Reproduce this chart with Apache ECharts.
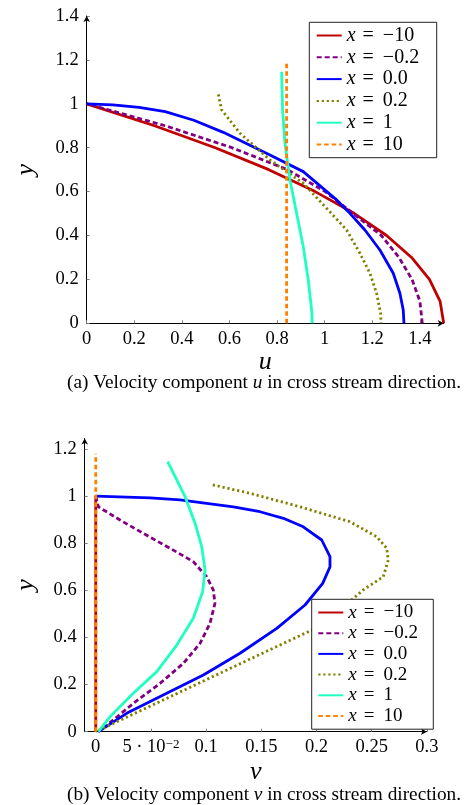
<!DOCTYPE html>
<html>
<head>
<meta charset="utf-8">
<script src="https://cdn.jsdelivr.net/npm/echarts@6/dist/echarts.min.js"></script>
<style>
  html, body { margin: 0; padding: 0; background: #fff; }
  #chart { width: 465px; height: 805px; }
</style>
</head>
<body>
<div id="chart"></div>
<script>
// Stations along the channel (legend entries)
const stations = ['x = \u221210', 'x = \u22120.2', 'x = 0.0', 'x = 0.2', 'x = 1', 'x = 10'];

// (a) streamwise velocity u against y
const uXm10 = [1.5, 1.485, 1.44, 1.365, 1.26, 1.125, 0.96, 0.765, 0.54, 0.285, 0];
const yUXm10 = [0, 0.1, 0.2, 0.3, 0.4, 0.5, 0.6, 0.7, 0.8, 0.9, 1.0];
const uXm02 = [1.41, 1.40, 1.367, 1.312, 1.238, 1.12, 1.002, 0.844, 0.61, 0.33, 0];
const yUXm02 = [0, 0.1, 0.2, 0.3, 0.4, 0.5, 0.6, 0.7, 0.8, 0.9, 1.0];
const uX00 = [0, 0.11, 0.22, 0.33, 0.45, 0.574, 0.66, 0.77, 0.91, 1.05, 1.106, 1.169, 1.232, 1.288, 1.316, 1.33, 1.333];
const yUX00 = [1.0, 0.995, 0.984, 0.964, 0.925, 0.87, 0.825, 0.767, 0.691, 0.562, 0.501, 0.425, 0.334, 0.228, 0.137, 0.061, 0];
const uX02 = [0.553, 0.567, 0.644, 0.77, 0.91, 1.008, 1.092, 1.148, 1.19, 1.218, 1.235, 1.237];
const yUX02 = [1.043, 0.972, 0.866, 0.744, 0.638, 0.524, 0.425, 0.319, 0.228, 0.137, 0.046, 0];
const uX1 = [0.819, 0.823, 0.833, 0.854, 0.882, 0.91, 0.931, 0.945, 0.948];
const yUX1 = [1.146, 0.972, 0.82, 0.653, 0.501, 0.349, 0.197, 0.061, 0];
const uX10 = [0.84, 0.84];
const yUX10 = [0, 1.19];

// (b) cross-stream velocity v against y
const vXm10 = [0, 0];
const yVXm10 = [0, 1.0];
const vXm02 = [0, 0.0024, 0.022, 0.0431, 0.0703, 0.0884, 0.1005, 0.1065, 0.108, 0.1035, 0.0945, 0.0793, 0.0582, 0.034, 0.016, 0.002];
const yVXm02 = [1.0, 0.955, 0.899, 0.842, 0.771, 0.722, 0.658, 0.602, 0.545, 0.46, 0.375, 0.29, 0.205, 0.12, 0.05, 0];
const vX00 = [0, 0.0493, 0.0764, 0.1246, 0.1488, 0.17, 0.188, 0.2047, 0.2122, 0.2122, 0.2056, 0.1896, 0.164, 0.1307, 0.0975, 0.0643, 0.028, 0.0024];
const yVX00 = [1.0, 0.993, 0.984, 0.955, 0.934, 0.906, 0.87, 0.814, 0.743, 0.70, 0.63, 0.538, 0.439, 0.333, 0.241, 0.163, 0.078, 0];
const vX02 = [0.106, 0.14, 0.185, 0.23, 0.2545, 0.2636, 0.265, 0.2605, 0.2424, 0.222, 0.196, 0.145, 0.0975, 0.05, 0.0];
const yVX02 = [1.048, 1.012, 0.955, 0.892, 0.828, 0.779, 0.729, 0.658, 0.602, 0.52, 0.432, 0.32, 0.215, 0.11, 0.0];
const vX1 = [0.0652, 0.0809, 0.09, 0.096, 0.099, 0.0969, 0.0884, 0.0734, 0.0553, 0.034, 0.013, 0.0024];
const yVX1 = [1.147, 0.998, 0.885, 0.786, 0.687, 0.595, 0.482, 0.368, 0.255, 0.163, 0.064, 0];
const vX10 = [0, 0];
const yVX10 = [0, 1.18];

// Tick positions
const uTicks = [0, 0.2, 0.4, 0.6, 0.8, 1, 1.2, 1.4];
const yTicksA = [0, 0.2, 0.4, 0.6, 0.8, 1, 1.2, 1.4];
const vTicks = [0, 0.05, 0.1, 0.15, 0.2, 0.25, 0.3];
const yTicksB = [0, 0.2, 0.4, 0.6, 0.8, 1, 1.2];

const SERIF = 'Liberation Serif';
const TICK_FS = 18.5;
const styles = [
  { color: '#c00000', type: 'solid' },
  { color: '#800080', type: [5, 3] },
  { color: '#0000ff', type: 'solid' },
  { color: '#808000', type: [2.2, 2.8] },
  { color: '#1effc0', type: 'solid' },
  { color: '#ff8000', type: [4.5, 3] }
];

const zip = (a, b) => a.map((v, i) => [v, b[i]]);
const dataA = [zip(uXm10, yUXm10), zip(uXm02, yUXm02), zip(uX00, yUX00), zip(uX02, yUX02), zip(uX1, yUX1), zip(uX10, yUX10)];
const dataB = [zip(vXm10, yVXm10), zip(vXm02, yVXm02), zip(vX00, yVX00), zip(vX02, yVX02), zip(vX1, yVX1), zip(vX10, yVX10)];

function makeSeries(data, axisIndex) {
  return data.map((d, i) => ({
    name: stations[i],
    type: 'line',
    xAxisIndex: axisIndex,
    yAxisIndex: axisIndex,
    data: d,
    symbol: 'none',
    showSymbol: false,
    smooth: false,
    lineStyle: { color: styles[i].color, width: 2.8, type: styles[i].type, cap: 'butt' },
    itemStyle: { color: styles[i].color }
  }));
}

const tickFmt = v => String(Math.round(v * 1000) / 1000);

function valueAxis(extra) {
  return Object.assign({
    type: 'value',
    splitLine: { show: false },
    axisLine: { show: true, onZero: false, symbol: ['none', 'arrow'], symbolSize: [5, 6], lineStyle: { color: '#000', width: 1 } },
    nameTextStyle: { color: '#000', fontFamily: SERIF, fontStyle: 'italic', fontSize: 26 },
    nameLocation: 'middle'
  }, extra);
}

function ticks(values) {
  return { show: true, inside: true, length: 3, customValues: values, lineStyle: { color: '#808080', width: 1 } };
}

function labels(values, margin) {
  return { color: '#000', fontFamily: SERIF, fontSize: TICK_FS, margin: margin, customValues: values, formatter: tickFmt };
}

function legendFmt(name) {
  return '{i|x}{e|=}{n|' + name.slice(4) + '}';
}

function legendBox(left, top, fontSize, lineHeight, gap, pad, textWidth) {
  return {
    data: stations,
    orient: 'vertical',
    left: left,
    top: top,
    itemWidth: 25,
    itemHeight: 0.5,
    itemGap: gap,
    padding: pad,
    backgroundColor: '#fff',
    borderColor: '#222',
    borderWidth: 1,
    borderRadius: 0,
    selectedMode: false,
    itemStyle: { opacity: 0 },
    formatter: legendFmt,
    textStyle: {
      color: '#000',
      fontFamily: SERIF,
      fontSize: fontSize,
      lineHeight: lineHeight,
      width: textWidth,
      rich: {
        i: { fontFamily: SERIF, fontStyle: 'italic', fontSize: fontSize, lineHeight: lineHeight },
        e: { fontFamily: SERIF, fontSize: fontSize, lineHeight: lineHeight, padding: [0, 9, 0, 7] },
        n: { fontFamily: SERIF, fontSize: fontSize, lineHeight: lineHeight }
      }
    }
  };
}

function caption(y, text) {
  return {
    type: 'text', x: 264, y: y,
    style: {
      text: text,
      align: 'center', verticalAlign: 'middle', textAlign: 'center', textVerticalAlign: 'middle',
      rich: {
        n: { fontFamily: SERIF, fontSize: 19.3, fill: '#000', color: '#000' },
        i: { fontFamily: SERIF, fontSize: 19.3, fontStyle: 'italic', fill: '#000', color: '#000' }
      }
    }
  };
}

const chart = echarts.init(document.getElementById('chart'), null, { renderer: 'canvas' });

const option = {
  animation: false,
  backgroundColor: '#fff',
  grid: [
    { left: 86.7, top: 16, width: 357, height: 307.3, outerBoundsMode: 'none', containLabel: false },
    { left: 84.7, top: 438.5, width: 342.2, height: 293.2, outerBoundsMode: 'none', containLabel: false }
  ],
  xAxis: [
    valueAxis({
      gridIndex: 0, min: 0, max: 1.5, name: 'u', nameGap: 22,
      axisTick: ticks(uTicks),
      axisLabel: labels(uTicks, 6)
    }),
    valueAxis({
      gridIndex: 1, min: -0.01, max: 0.3, name: 'v', nameGap: 27,
      axisTick: ticks(vTicks),
      axisLabel: {
        color: '#000', fontFamily: SERIF, fontSize: TICK_FS, margin: 6, customValues: vTicks,
        formatter: v => (Math.abs(v - 0.05) < 1e-9 ? '{a|5 \u00b7 10}{s|\u22122}' : '{a|' + tickFmt(v) + '}'),
        rich: {
          a: { fontFamily: SERIF, fontSize: TICK_FS, color: '#000', verticalAlign: 'bottom' },
          s: { fontFamily: SERIF, fontSize: 13, color: '#000', verticalAlign: 'top' }
        }
      }
    })
  ],
  yAxis: [
    valueAxis({
      gridIndex: 0, min: 0, max: 1.4, name: 'y', nameGap: 48, nameRotate: 90,
      axisTick: ticks(yTicksA),
      axisLabel: labels(yTicksA, 8)
    }),
    valueAxis({
      gridIndex: 1, min: 0, max: 1.245, name: 'y', nameGap: 46, nameRotate: 90,
      axisTick: ticks(yTicksB),
      axisLabel: labels(yTicksB, 8)
    })
  ],
  legend: [
    legendBox(309.3, 22.3, 20, 20, 1.8, [3.2, 6, 3.2, 6.4], 84),
    legendBox(311.7, 599.3, 19, 19, 1.7, [3.7, 6, 3.7, 5.6], 79)
  ],
  graphic: [
    caption(383, '{n|(a) Velocity component }{i|u}{n| in cross stream direction.}'),
    caption(795, '{n|(b) Velocity component }{i|v}{n| in cross stream direction.}')
  ],
  series: makeSeries(dataA, 0).concat(makeSeries(dataB, 1))
};

chart.setOption(option);
</script>
</body>
</html>
